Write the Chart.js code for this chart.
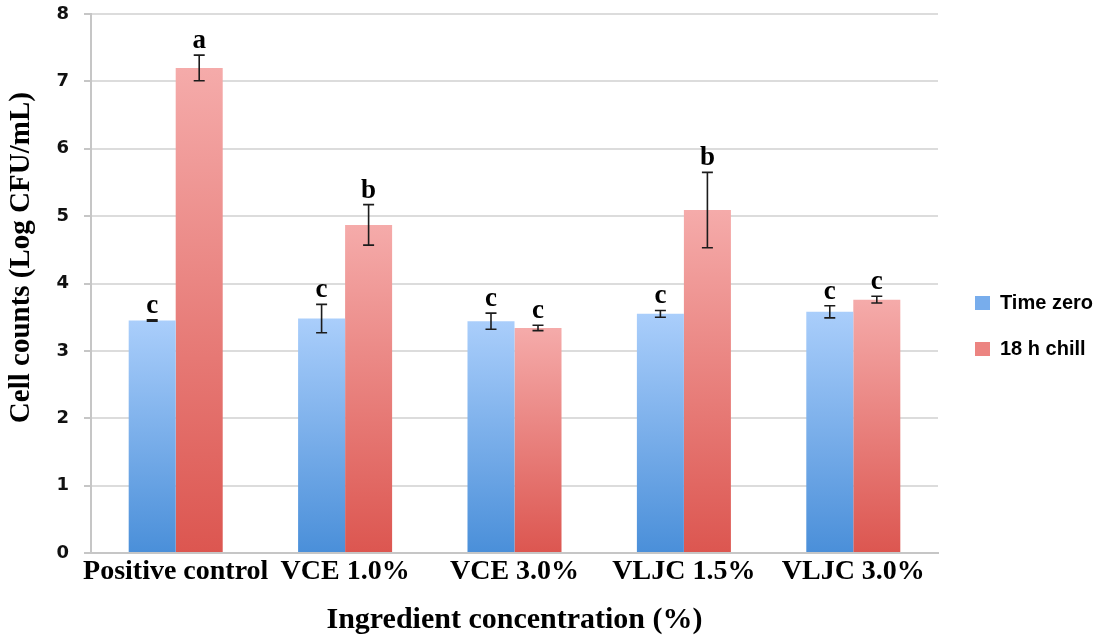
<!DOCTYPE html>
<html>
<head>
<meta charset="utf-8">
<script src="https://cdn.jsdelivr.net/npm/chart.js@4.4.1/dist/chart.umd.min.js"></script>
<style>
html,body{margin:0;padding:0;background:#ffffff;}
#wrap{width:1104px;height:638px;position:relative;}
canvas{display:block;}
</style>
</head>
<body>
<div id="wrap"><canvas id="c" width="1104" height="638"></canvas></div>
<script>
// ---- data ----
const categories = ['Positive control', 'VCE 1.0%', 'VCE 3.0%', 'VLJC 1.5%', 'VLJC 3.0%'];
const seriesNames = ['Time zero', '18 h chill'];
const timeZero = [3.45, 3.48, 3.44, 3.55, 3.58];
const timeZeroErr = [0.01, 0.21, 0.12, 0.05, 0.09];
const chill18h = [7.20, 4.87, 3.34, 5.09, 3.76];
const chill18hErr = [0.19, 0.30, 0.04, 0.56, 0.05];
const timeZeroLetters = ['c', 'c', 'c', 'c', 'c'];
const chill18hLetters = ['a', 'b', 'c', 'b', 'c'];
const yTicks = [0, 1, 2, 3, 4, 5, 6, 7, 8];
const xTitle = 'Ingredient concentration (%)';
const yTitle = 'Cell counts (Log CFU/mL)';

// ---- styles ----
const blueTop = '#aacefb', blueBottom = '#4a8fd9', blueLegend = '#78adec';
const redTop = '#f5abaa', redBottom = '#dc5650', redLegend = '#ec8481';

function barGradient(top, bottom, fallback) {
  return (ctx) => {
    const chart = ctx.chart;
    if (ctx.type !== 'data' || !chart.chartArea || !chart.scales.y) return fallback;
    const ys = chart.scales.y;
    const y0 = ys.getPixelForValue(ctx.raw);
    const y1 = ys.getPixelForValue(0);
    if (!isFinite(y0) || !isFinite(y1) || y0 === y1) return fallback;
    const g = chart.ctx.createLinearGradient(0, y0, 0, y1);
    g.addColorStop(0, top);
    g.addColorStop(1, bottom);
    return g;
  };
}

const serifFamily = "'Liberation Serif', 'Times New Roman', serif";
const serifBold = (size) => ({ family: serifFamily, weight: 'bold', size: size });

const errorBars = {
  id: 'errorBars',
  afterDatasetsDraw(chart) {
    const { ctx } = chart;
    const ys = chart.scales.y;
    chart.data.datasets.forEach((ds, di) => {
      const meta = chart.getDatasetMeta(di);
      if (meta.hidden) return;
      meta.data.forEach((bar, i) => {
        const v = ds.data[i], e = ds.errors[i];
        const yt = ys.getPixelForValue(v + e);
        const yb = ys.getPixelForValue(v - e);
        const x = bar.x;
        ctx.save();
        ctx.strokeStyle = '#1c1c1c';
        ctx.lineWidth = 1.6;
        ctx.beginPath();
        ctx.moveTo(x, yt); ctx.lineTo(x, yb);
        ctx.moveTo(x - 5.5, yt); ctx.lineTo(x + 5.5, yt);
        ctx.moveTo(x - 5.5, yb); ctx.lineTo(x + 5.5, yb);
        ctx.stroke();
        ctx.fillStyle = '#000';
        ctx.font = "bold 27px " + serifFamily;
        ctx.textAlign = 'center';
        ctx.textBaseline = 'alphabetic';
        ctx.fillText(ds.letters[i], x, yt - 7);
        ctx.restore();
      });
    });
  }
};

// y-axis title, placed where the reference has it (slightly above the plot centre)
const yTitlePlugin = {
  id: 'yTitlePlugin',
  afterDraw(chart) {
    const { ctx, chartArea } = chart;
    ctx.save();
    ctx.translate(22, chartArea.top + (chartArea.bottom - chartArea.top) * 0.452);
    ctx.rotate(-Math.PI / 2);
    ctx.fillStyle = '#000';
    ctx.font = "bold 29px " + serifFamily;
    ctx.textAlign = 'center';
    ctx.textBaseline = 'middle';
    ctx.fillText(yTitle, 0, 0);
    ctx.restore();
  }
};

const legendPlace = {
  id: 'legendPlace',
  beforeUpdate(chart) {
    const lg = chart.legend;
    if (lg && !lg._patched) {
      const orig = lg.fit;
      lg.fit = function () { orig.call(this); this.width = 166; };
      lg._patched = true;
    }
  },
  afterLayout(chart) {
    const lg = chart.legend;
    if (lg) { lg.left += 11; lg.right += 11; }
  }
};

new Chart(document.getElementById('c'), {
  type: 'bar',
  data: {
    labels: categories,
    datasets: [
      {
        label: seriesNames[0],
        data: timeZero,
        errors: timeZeroErr,
        letters: timeZeroLetters,
        backgroundColor: barGradient(blueTop, blueBottom, blueLegend),
        borderWidth: 0,
        categoryPercentage: 0.555,
        barPercentage: 1.0
      },
      {
        label: seriesNames[1],
        data: chill18h,
        errors: chill18hErr,
        letters: chill18hLetters,
        backgroundColor: barGradient(redTop, redBottom, redLegend),
        borderWidth: 0,
        categoryPercentage: 0.555,
        barPercentage: 1.0
      }
    ]
  },
  options: {
    responsive: false,
    animation: false,
    devicePixelRatio: 1,
    layout: { padding: { top: 14, left: 0, right: 0, bottom: 0 } },
    plugins: {
      tooltip: { enabled: false },
      legend: {
        position: 'right',
        align: 'center',
        labels: {
          boxWidth: 15,
          boxHeight: 14,
          padding: 26,
          color: '#000',
          font: { family: "'Liberation Sans', Arial, sans-serif", weight: 'bold', size: 20 },
          generateLabels(chart) {
            return chart.data.datasets.map((ds, i) => ({
              text: ds.label,
              fillStyle: i === 0 ? blueLegend : redLegend,
              strokeStyle: i === 0 ? blueLegend : redLegend,
              lineWidth: 0,
              hidden: false,
              datasetIndex: i,
              fontColor: '#000'
            }));
          }
        }
      }
    },
    scales: {
      x: {
        grid: { display: false, drawTicks: false },
        border: { display: true, color: '#c6c6c6', width: 2 },
        ticks: { font: serifBold(28), color: '#000', padding: 2, maxRotation: 0, autoSkip: false },
        title: { display: true, text: xTitle, font: serifBold(30), color: '#000', padding: { top: 0, bottom: 0 } },
        afterFit(s) { s.height = 85; }
      },
      y: {
        min: 0,
        max: 8,
        afterBuildTicks(s) { s.ticks = yTicks.map(v => ({ value: v })); },
        grid: { color: '#dcdcdc', lineWidth: 2, drawTicks: true, tickLength: 7, tickColor: '#c6c6c6' },
        border: { display: true, color: '#c6c6c6', width: 2 },
        ticks: {
          font: { family: "'DejaVu Sans', Verdana, sans-serif", weight: 'bold', size: 18 },
          color: '#111',
          padding: 15
        },
        title: { display: false, text: yTitle },
        afterFit(s) { s.width = 91; s.paddingTop = 0; s.paddingBottom = 0; }
      }
    }
  },
  plugins: [errorBars, yTitlePlugin, legendPlace]
});
</script>
</body>
</html>
